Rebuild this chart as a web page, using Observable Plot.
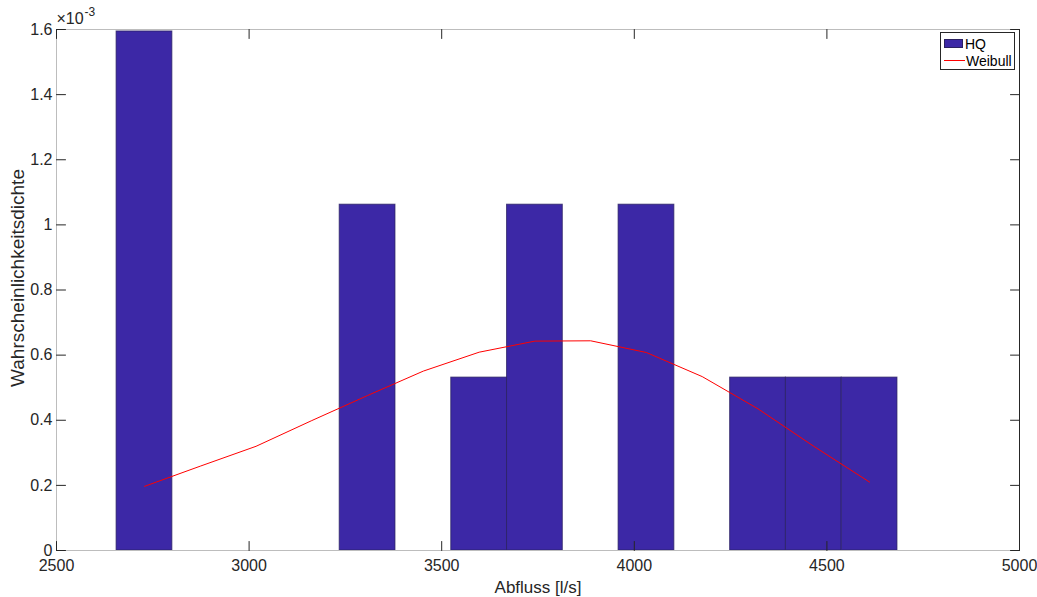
<!DOCTYPE html>
<html>
<head>
<meta charset="utf-8">
<script src="https://cdn.jsdelivr.net/npm/d3@7"></script>
<script src="https://cdn.jsdelivr.net/npm/@observablehq/plot@0.6"></script>
<style>
  html, body { margin: 0; padding: 0; background: #fff; }
  #wrap { position: relative; width: 1037px; height: 597px; font-family: "Liberation Sans", Arial, sans-serif; }
  #legend { position: absolute; left: 940px; top: 32px; width: 75px; height: 38px; border: 1px solid #262626; background: #fff; font-size: 14px; color: #000; box-sizing: border-box; }
  .row { position: absolute; left: 3px; height: 15px; display: flex; align-items: center; }
  .patch { width: 19px; height: 9px; background: #3c28a6; border: 1px solid #2a2060; box-sizing: border-box; margin-right: 2px; }
  .ln { width: 21px; height: 0; border-top: 1px solid #ff0000; margin-right: 1px; }
</style>
</head>
<body>
<div id="wrap"></div>
<script>
// Histogram bin edges (l/s) and densities (1/(l/s))
const binEdges = [2656, 2800.8, 2945.6, 3090.4, 3235.2, 3380, 3524.8, 3669.6, 3814.4, 3959.2, 4104, 4248.8, 4393.6, 4538.4, 4683.2];
const binDensity = [1.594e-3, 0, 0, 0, 1.062e-3, 0, 0.531e-3, 1.062e-3, 0, 1.062e-3, 0, 0.531e-3, 0.531e-3, 0.531e-3];

// Weibull fit evaluated at bin centres
const weibullX = [2728.4, 2873.2, 3018, 3162.8, 3307.6, 3452.4, 3597.2, 3742, 3886.8, 4031.6, 4176.4, 4321.2, 4466, 4610.8];
const weibullY = [0.197e-3, 0.259e-3, 0.320e-3, 0.399e-3, 0.476e-3, 0.551e-3, 0.609e-3, 0.643e-3, 0.644e-3, 0.608e-3, 0.534e-3, 0.435e-3, 0.320e-3, 0.210e-3];

const xTicks = [2500, 3000, 3500, 4000, 4500, 5000];
const yTicks = [0, 0.0002, 0.0004, 0.0006, 0.0008, 0.0010, 0.0012, 0.0014, 0.0016];
const xLabel = "Abfluss [l/s]";
const yLabel = "Wahrscheinlichkeitsdichte";
const legendLabels = ["HQ", "Weibull"];

const bins = binDensity.map((d, i) => ({x1: binEdges[i], x2: binEdges[i + 1], y: d})).filter(b => b.y > 0);
const weibull = weibullX.map((x, i) => ({x, y: weibullY[i]}));

const tickShape = {draw(context, l) { context.moveTo(0, 0); context.lineTo(0, -l); }};
const TL = 9;
const dark = "#262626";
const fmtY = d => { const v = Math.round(d * 1e4) / 10; return v === 0 ? "0" : String(v); };

const chart = Plot.plot({
  width: 1037,
  height: 597,
  marginLeft: 56,
  marginRight: 18,
  marginTop: 29,
  marginBottom: 47,
  style: {fontFamily: '"Liberation Sans", Arial, sans-serif', background: "#fff"},
  x: {domain: [2500, 5000]},
  y: {domain: [0, 0.0016]},
  marks: [
    Plot.rectY(bins, {x1: "x1", x2: "x2", y1: 0, y2: "y", fill: "#3c28a6", stroke: "#2a2060", strokeOpacity: 0.75, strokeWidth: 1, inset: 0}),
    Plot.line(weibull, {x: "x", y: "y", stroke: "#ff0000", strokeWidth: 1}),
    Plot.frame({stroke: "#bdbdbd", strokeWidth: 1}),
    Plot.ruleX([5000], {stroke: dark, strokeWidth: 1}),
    // ticks (inward, on all four sides)
    Plot.vector(xTicks, {x: d => d, y: 0, length: TL, rotate: 0, anchor: "start", shape: tickShape, stroke: dark, strokeWidth: 1}),
    Plot.vector(xTicks, {x: d => d, y: 0.0016, length: TL, rotate: 180, anchor: "start", shape: tickShape, stroke: dark, strokeWidth: 1}),
    Plot.vector(yTicks, {x: 2500, y: d => d, length: TL, rotate: 90, anchor: "start", shape: tickShape, stroke: dark, strokeWidth: 1}),
    Plot.vector(yTicks, {x: 5000, y: d => d, length: TL, rotate: -90, anchor: "start", shape: tickShape, stroke: dark, strokeWidth: 1}),
    Plot.axisX({ticks: xTicks, tickSize: 0, tickPadding: 9, tickFormat: d => String(d), fontSize: 16, fill: dark, label: null}),
    Plot.axisY({ticks: yTicks, tickSize: 0, tickPadding: 4, tickFormat: fmtY, fontSize: 16, fill: dark, label: null}),
    Plot.text([xLabel], {frameAnchor: "bottom", dy: 37, lineAnchor: "middle", fontSize: 17, fill: dark}),
    Plot.text([yLabel], {frameAnchor: "left", textAnchor: "middle", lineAnchor: "middle", dx: -39, dy: -12, rotate: -90, fontSize: 19, fill: dark}),
    Plot.text(["×10"], {frameAnchor: "top-left", dx: 0, dy: -11, lineAnchor: "middle", textAnchor: "start", fontSize: 16, fill: dark}),
    Plot.text(["-3"], {frameAnchor: "top-left", dx: 28, dy: -17, lineAnchor: "middle", textAnchor: "start", fontSize: 12, fill: dark})
  ]
});

const wrap = document.getElementById("wrap");
wrap.appendChild(chart);

const legend = document.createElement("div");
legend.id = "legend";
legend.innerHTML =
  `<div class="row" style="top:3px"><div class="patch"></div><span>${legendLabels[0]}</span></div>` +
  `<div class="row" style="top:20px"><div class="ln"></div><span>${legendLabels[1]}</span></div>`;
wrap.appendChild(legend);
</script>
</body>
</html>
